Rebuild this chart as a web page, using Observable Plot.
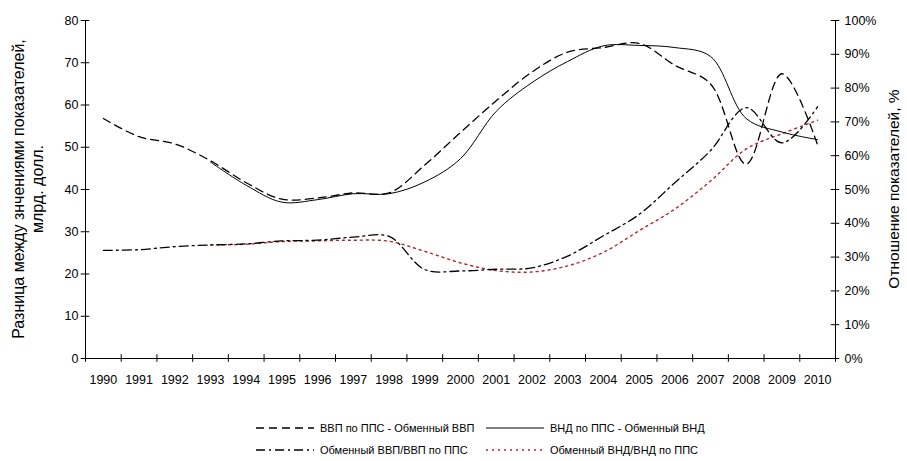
<!DOCTYPE html>
<html><head><meta charset="utf-8">
<script src="https://cdn.jsdelivr.net/npm/d3@7"></script>
<script src="https://cdn.jsdelivr.net/npm/@observablehq/plot@0.6"></script>
<style>
body{margin:0;background:#fff;}
#wrap{position:relative;width:907px;height:461px;font-family:"Liberation Sans",Arial,sans-serif;background:#fff;}
.leg{position:absolute;display:flex;align-items:center;font-size:11px;color:#000;white-space:nowrap;height:16px;}
.leg svg{margin-right:6px;}
</style></head><body><div id="wrap"></div>
<script>
const years = [1990,1991,1992,1993,1994,1995,1996,1997,1998,1999,2000,2001,2002,2003,2004,2005,2006,2007,2008,2009,2010];
// left axis, bn USD
const gdpDiff = [56.8,52.5,50.8,46.8,41.6,37.7,38.0,39.2,39.2,45.8,53.5,61.0,67.8,72.5,73.6,74.6,69.4,65.0,46.0,67.4,50.5];
const gniDiff = [null,null,null,46.5,41.0,37.0,37.6,39.0,39.0,41.8,47.3,58.5,65.3,70.3,74.0,74.1,73.6,71.5,56.8,53.6,51.8];
// right axis, %
const gdpRatio = [32.0,32.2,33.1,33.6,33.9,34.8,35.0,35.9,36.1,26.3,25.9,26.4,26.8,30.3,36.3,42.6,52.0,61.5,74.2,63.8,74.5];
const gniRatio = [null,null,null,33.6,33.8,34.6,34.8,35.0,34.7,31.7,28.3,26.0,25.6,27.4,31.4,37.8,44.2,52.5,62.0,66.5,70.5];
const leftTicks = [0,10,20,30,40,50,60,70,80];
const rightTicks = [0,10,20,30,40,50,60,70,80,90,100];
const seriesNames = ["ВВП по ППС - Обменный ВВП","ВНД по ППС - Обменный ВНД","Обменный ВВП/ВВП по ППС","Обменный ВНД/ВНД по ППС"];
const leftTitle = ["Разница между знчениями показателей,","млрд. долл."];
const rightTitle = "Отношение показателей, %";

const k = 80/100; // percent -> left-axis units
const rows = (vals, scale=1) => years.map((yr,i)=>({year:yr, v: vals[i]==null?null:vals[i]*scale})).filter(d=>d.v!=null);
const styles = [
  {stroke:"#000", strokeWidth:1.3, strokeDasharray:"8,5"},
  {stroke:"#000", strokeWidth:1, strokeDasharray:null},
  {stroke:"#000", strokeWidth:1.3, strokeDasharray:"9,4,2,4"},
  {stroke:"#b0262b", strokeWidth:1.4, strokeDasharray:"2,4"}
];
const xa = years[0]-0.5, xb = years[years.length-1]+0.5;

const plot = Plot.plot({
  width:907, height:400, marginLeft:85, marginRight:72, marginTop:20, marginBottom:42,
  x:{type:"linear", domain:[xa,xb]},
  y:{domain:[0,80]},
  style:{fontFamily:"'Liberation Sans', Arial, sans-serif", fontSize:"12.5px", background:"#fff", color:"#000", overflow:"visible"},
  marks:[
    Plot.axisY({ticks:leftTicks, tickSize:0, tickPadding:7, label:null, tickFormat:d=>String(d)}),
    Plot.axisY({anchor:"right", ticks:rightTicks.map(p=>p*k), tickSize:0, tickPadding:9, label:null, tickFormat:d=>Math.round(d/k)+"%"}),
    Plot.axisX({ticks:years, tickSize:0, tickPadding:17, label:null, tickFormat:d=>String(d)}),
    Plot.line(rows(gniRatio,k), {x:"year", y:"v", curve:"catmull-rom", ...styles[3]}),
    Plot.line(rows(gdpRatio,k), {x:"year", y:"v", curve:"catmull-rom", ...styles[2]}),
    Plot.line(rows(gniDiff), {x:"year", y:"v", curve:"catmull-rom", ...styles[1]}),
    Plot.line(rows(gdpDiff), {x:"year", y:"v", curve:"catmull-rom", ...styles[0]}),
    Plot.ruleX([xa, xb], {y1:0, y2:80, stroke:"#000"}),
    Plot.ruleY([0], {x1:xa, x2:xb, stroke:"#000"}),
    Plot.ruleY(leftTicks, {x1:xa-0.12, x2:xa+0.12, stroke:"#000"}),
    Plot.ruleY(rightTicks.map(p=>p*k), {x1:xb-0.12, x2:xb+0.12, stroke:"#000"}),
    Plot.ruleX(d3.range(xa, xb+0.01, 1), {y1:-0.9, y2:0.9, stroke:"#000"})
  ]
});
const wrap = document.getElementById("wrap");
wrap.appendChild(plot);
const svg = d3.select(plot);
const tfont = "'Liberation Sans', Arial, sans-serif";
leftTitle.forEach((t,i)=>{
  svg.append("text").attr("transform",`translate(${18+i*19},189) rotate(-90)`)
    .attr("text-anchor","middle").attr("dy","0.35em").attr("font-size","16px").attr("font-family",tfont).attr("fill","#000").text(t);
});
svg.append("text").attr("transform",`translate(894,189) rotate(-90)`)
  .attr("text-anchor","middle").attr("dy","0.35em").attr("font-size","15.5px").attr("font-family",tfont).attr("fill","#000").text(rightTitle);

// legend
const legPos = [[256,420],[486,420],[256,442],[486,442]];
seriesNames.forEach((name,i)=>{
  const d = document.createElement("div");
  d.className="leg";
  d.style.left=legPos[i][0]+"px"; d.style.top=legPos[i][1]+"px";
  const s = styles[i];
  d.innerHTML = `<svg width="58" height="16"><line x1="0" x2="58" y1="8" y2="8" stroke="${s.stroke}" stroke-width="${s.strokeWidth}" ${s.strokeDasharray?`stroke-dasharray="${s.strokeDasharray}"`:""}/></svg><span>${name}</span>`;
  wrap.appendChild(d);
});
</script></body></html>
